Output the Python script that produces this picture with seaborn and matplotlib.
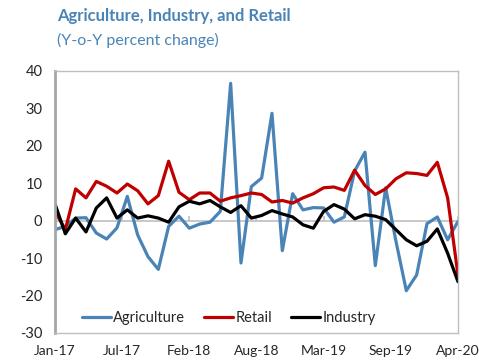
import numpy as np
import pandas as pd
import matplotlib
matplotlib.use("Agg")
import matplotlib.pyplot as plt
import seaborn as sns

# Monthly year-on-year percent change, Jan-2017 .. Apr-2020
months = pd.date_range("2017-01-01", "2020-04-01", freq="MS").strftime("%b-%y").tolist()

agriculture = [-2.4, -1.5, 0.7, 0.8, -3.3, -4.9, -1.9, 6.5, -3.8, -9.6,
               -13.0, -1.5, 1.2, -2.0, -0.9, -0.4, 2.5, 36.7, -11.3, 9.1,
               11.4, 28.7, -8.0, 7.2, 2.9, 3.5, 3.4, -0.4, 1.0, 13.3,
               18.3, -12.0, 8.8, -5.5, -18.7, -14.5, -0.8, 1.0, -5.1, -0.2]

retail = [2.5, -2.4, 8.5, 6.1, 10.5, 9.2, 7.4, 9.8, 8.0, 4.5,
          6.7, 15.9, 7.6, 5.6, 7.4, 7.4, 5.2, 6.1, 6.7, 7.4,
          7.0, 5.0, 5.4, 4.7, 6.1, 7.2, 8.8, 9.0, 8.1, 13.5,
          9.4, 7.0, 8.5, 11.2, 12.8, 12.6, 12.1, 15.6, 6.1, -14.5]

industry = [4.5, -3.5, 0.7, -3.0, 3.4, 6.1, 0.7, 2.9, 0.7, 1.3,
            0.7, -0.4, 3.7, 5.2, 4.5, 5.4, 3.7, 2.2, 4.0, 0.7,
            1.4, 2.7, 1.8, 1.0, -1.1, -2.0, 2.5, 4.3, 3.1, 0.5,
            1.6, 1.2, 0.3, -2.4, -5.1, -6.7, -5.5, -2.2, -8.7, -16.3]

series_names = ["Agriculture", "Retail", "Industry"]
series_colors = ["#4A84B6", "#C00000", "#000000"]
tick_labels = ["Jan-17", "Jul-17", "Feb-18", "Aug-18", "Mar-19", "Sep-19", "Apr-20"]
y_ticks = [-30, -20, -10, 0, 10, 20, 30, 40]

sns.set_theme(style="white")
plt.rcParams["font.family"] = ["Lato", "DejaVu Sans"]

n = len(months)
df = pd.DataFrame({
    "idx": list(range(n)) * 3,
    "value": agriculture + retail + industry,
    "series": sum([[s] * n for s in series_names], []),
})

fig = plt.figure(figsize=(4.79, 3.64), dpi=100)
ax = fig.add_axes([0.1148, 0.0852, 0.8413, 0.7198])

sns.lineplot(data=df, x="idx", y="value", hue="series", hue_order=series_names,
             palette=dict(zip(series_names, series_colors)), linewidth=2.3,
             ax=ax, legend=False)

ax.set_xlim(0, n - 1)
ax.set_ylim(-30, 40)
ax.set_yticks(y_ticks)
ax.set_yticklabels([str(v) for v in y_ticks], fontsize=10.5, color="#262626")
xt = np.linspace(0, n - 1, len(tick_labels))
ax.set_xticks(xt)
ax.set_xticklabels(tick_labels, fontsize=10, color="#262626")
ax.tick_params(axis="both", length=0, pad=9)
ax.set_xlabel("")
ax.set_ylabel("")

# zero line with small category ticks
ax.axhline(0, color="#BFBFBF", linewidth=1.2, zorder=0)
ax.vlines(xt, -0.0, 1.2, color="#BFBFBF", linewidth=1.2, zorder=0)

for side in ["top", "right", "bottom"]:
    ax.spines[side].set_color("#BFBFBF")
    ax.spines[side].set_linewidth(1.0)
ax.spines["left"].set_color("#A6A6A6")
ax.spines["left"].set_linewidth(2.0)

handles = [plt.Line2D([], [], color=c, linewidth=2.3) for c in series_colors]
ax.legend(handles, series_names, loc="center left", bbox_to_anchor=(0.067, 0.057),
          ncol=3, frameon=False, fontsize=10.5, handlelength=2.0,
          handletextpad=0.15, columnspacing=1.3, borderpad=0, borderaxespad=0,
          labelcolor="#262626")

fig.text(0.119, 0.955, "Agriculture, Industry, and Retail", fontsize=12,
         fontweight="bold", color="#4A84B6", va="center", ha="left")
fig.text(0.119, 0.888, "(Y-o-Y percent change)", fontsize=11.5,
         color="#4A84B6", va="center", ha="left")

fig.savefig("out.png", dpi=100)
